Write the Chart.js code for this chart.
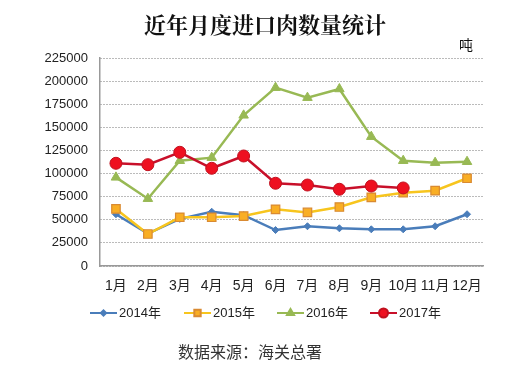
<!DOCTYPE html>
<html>
<head>
<meta charset="utf-8">
<script src="https://cdn.jsdelivr.net/npm/chart.js@4"></script>
<style>
  html, body { margin: 0; padding: 0; background: #fff; }
  #wrap { width: 513px; height: 370px; }
</style>
</head>
<body>
<div id="wrap"><canvas id="meatChart" width="513" height="370"></canvas></div>
<script>
// 近年月度进口肉数量统计 (吨)
const months = ['1月', '2月', '3月', '4月', '5月', '6月', '7月', '8月', '9月', '10月', '11月', '12月'];
const y2014 = [56000, 35000, 51000, 58700, 55000, 38900, 43000, 40800, 39700, 39700, 43000, 56000];
const y2015 = [61700, 34600, 52700, 52700, 54000, 61300, 58000, 63800, 74300, 79300, 81500, 94900];
const y2016 = [95900, 72800, 113900, 117200, 163000, 192900, 182100, 191500, 139900, 113900, 111800, 112800];
const y2017 = [111100, 109600, 123000, 105700, 119000, 89500, 87600, 83000, 86500, 84400];
const seriesNames = ['2014年', '2015年', '2016年', '2017年'];

const titleText = '近年月度进口肉数量统计';
const unitText = '吨';
const sourceText = '数据来源：海关总署';

const sansFont = "'Liberation Sans', Arial, 'Noto Sans CJK SC', sans-serif";

// title, unit, legend (line + marker) and source line
const decorations = {
  id: 'decorations',
  afterDraw(chart) {
    const ctx = chart.ctx;
    ctx.save();
    ctx.fillStyle = '#111';
    ctx.textAlign = 'center';
    ctx.textBaseline = 'middle';
    ctx.font = "bold 22px 'Noto Serif CJK SC', 'Noto Sans CJK SC', serif";
    ctx.fillText(titleText, 265, 25);

    ctx.font = "14px 'Noto Sans CJK SC', sans-serif";
    ctx.fillText(unitText, 466, 45);

    const legendX = [90, 184, 277, 370];
    const ly = 313;
    chart.data.datasets.forEach((ds, i) => {
      const x0 = legendX[i];
      ctx.strokeStyle = ds.borderColor;
      ctx.lineWidth = 2;
      ctx.beginPath();
      ctx.moveTo(x0, ly);
      ctx.lineTo(x0 + 27, ly);
      ctx.stroke();
      ctx.fillStyle = ds.pointBackgroundColor;
      ctx.strokeStyle = ds.pointBorderColor;
      Chart.helpers.drawPoint(ctx, {
        pointStyle: ds.pointStyle,
        radius: ds.pointRadius * 0.75,
        borderWidth: 1
      }, x0 + 13.5, ly);
      ctx.fillStyle = '#222';
      ctx.textAlign = 'left';
      ctx.font = "13px " + sansFont;
      ctx.fillText(seriesNames[i], x0 + 29, ly);
    });

    ctx.textAlign = 'center';
    ctx.fillStyle = '#333';
    ctx.font = "16px 'Noto Sans CJK SC', sans-serif";
    ctx.fillText(sourceText, 250, 352);
    ctx.restore();
  }
};

new Chart(document.getElementById('meatChart'), {
  type: 'line',
  data: {
    labels: months,
    datasets: [
      {
        label: seriesNames[0], data: y2014, order: 4,
        borderColor: '#4A7DBA', borderWidth: 2.5,
        pointStyle: 'rectRot', pointRadius: 3.5,
        pointBackgroundColor: '#4A7DBA', pointBorderColor: '#4A7DBA', pointBorderWidth: 1
      },
      {
        label: seriesNames[1], data: y2015, order: 3,
        borderColor: '#F7C51E', borderWidth: 2.5,
        pointStyle: 'rect', pointRadius: 6,
        pointBackgroundColor: '#F9AE24', pointBorderColor: '#D98A32', pointBorderWidth: 1.2
      },
      {
        label: seriesNames[2], data: y2016, order: 2,
        borderColor: '#98B954', borderWidth: 2.5,
        pointStyle: 'triangle', pointRadius: 5.5,
        pointBackgroundColor: '#98B954', pointBorderColor: '#98B954', pointBorderWidth: 1
      },
      {
        label: seriesNames[3], data: y2017, order: 1,
        borderColor: '#C8102A', borderWidth: 2.5,
        pointStyle: 'circle', pointRadius: 6,
        pointBackgroundColor: '#EE1020', pointBorderColor: '#C0101E', pointBorderWidth: 1
      }
    ]
  },
  options: {
    responsive: false,
    animation: false,
    layout: { padding: { left: 0, right: 30, top: 58, bottom: 74 } },
    plugins: {
      legend: { display: false },
      title: { display: false },
      tooltip: { enabled: false }
    },
    scales: {
      x: {
        offset: true,
        grid: { display: false, drawTicks: false },
        border: { color: '#999', width: 1.5 },
        ticks: { color: '#222', font: { size: 14, family: sansFont }, padding: 12, maxRotation: 0, autoSkip: false },
        afterFit(scale) { scale.height = 30; }
      },
      y: {
        min: 0, max: 225000,
        grid: { color: '#777', drawTicks: false, lineWidth: 1 },
        border: { color: '#999', width: 1.5, dash: [1, 2] },
        ticks: {
          stepSize: 25000, color: '#222', font: { size: 13, family: sansFont }, padding: 12,
          callback: (v) => String(v)
        },
        afterFit(scale) { scale.width = 100; }
      }
    }
  },
  plugins: [decorations]
});
</script>
</body>
</html>
